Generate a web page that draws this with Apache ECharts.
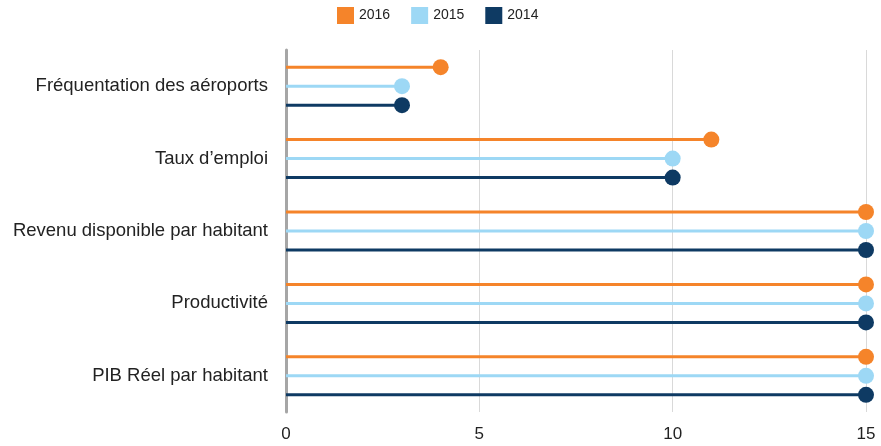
<!DOCTYPE html>
<html>
<head>
<meta charset="utf-8">
<script src="https://cdn.jsdelivr.net/npm/echarts@6/dist/echarts.min.js"></script>
<style>
  html, body { margin: 0; padding: 0; background: #fff; }
  #chart { width: 881px; height: 446px; }
</style>
</head>
<body>
<div id="chart"></div>
<script>
// données
var categories = ['Fréquentation des aéroports', 'Taux d’emploi', 'Revenu disponible par habitant', 'Productivité', 'PIB Réel par habitant'];
var seriesNames = ['2016', '2015', '2014'];
var values2016 = [4, 11, 15, 15, 15];
var values2015 = [3, 10, 15, 15, 15];
var values2014 = [3, 10, 15, 15, 15];
var xTicks = [0, 5, 10, 15];

var colors = ['#f5842a', '#9dd8f5', '#0e3a63'];
var allValues = [values2016, values2015, values2014];

var myChart = echarts.init(document.getElementById('chart'));

var series = [];
// les tiges
allValues.forEach(function (vals, i) {
    series.push({
        name: seriesNames[i],
        type: 'bar',
        data: vals,
        barWidth: 3,
        barGap: '533%',
        itemStyle: { color: colors[i] },
        silent: true,
        z: 2
    });
});
// les ronds au bout
allValues.forEach(function (vals, i) {
    series.push({
        name: seriesNames[i],
        type: 'pictorialBar',
        data: vals,
        barWidth: 3,
        barGap: '533%',
        symbol: 'circle',
        symbolSize: [16, 16],
        symbolPosition: 'end',
        symbolOffset: [8, 0],
        itemStyle: { color: colors[i] },
        silent: true,
        z: 3
    });
});

var option = {
    animation: false,
    textStyle: { fontFamily: 'Liberation Sans, Arial, sans-serif' },
    legend: {
        data: seriesNames.map(function (n, i) {
            return { name: n, icon: 'rect', itemStyle: { color: colors[i] } };
        }),
        top: 2,
        left: 332,
        itemWidth: 17,
        itemHeight: 17,
        itemGap: 21,
        textStyle: { fontSize: 14, color: '#222' }
    },
    grid: { left: 286, right: 15, top: 50, bottom: 34, containLabel: false },
    xAxis: {
        type: 'value',
        min: 0,
        max: 15,
        interval: 5,
        axisLine: { show: false },
        axisTick: { show: false },
        axisLabel: {
            fontSize: 17,
            color: '#222',
            margin: 14,
            customValues: xTicks
        },
        splitLine: { lineStyle: { color: '#d9d9d9', width: 1 } }
    },
    yAxis: {
        type: 'category',
        data: categories,
        inverse: true,
        axisLine: { lineStyle: { color: '#a6a6a6', width: 3 } },
        axisTick: { show: false },
        axisLabel: { fontSize: 18.5, color: '#222', margin: 18 }
    },
    series: series
};

myChart.setOption(option);
</script>
</body>
</html>
